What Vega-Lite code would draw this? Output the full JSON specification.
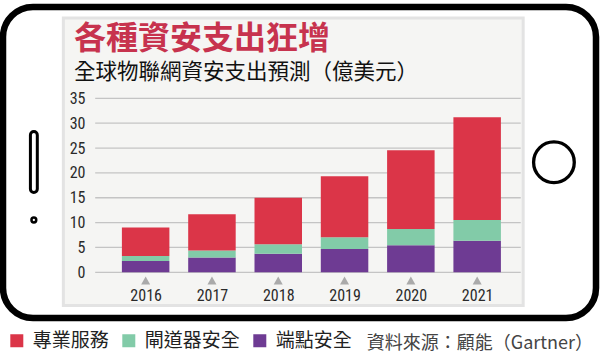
{
  "$schema": "https://vega.github.io/schema/vega-lite/v6.json",
  "width": 593,
  "height": 311,
  "autosize": {"type": "none"},
  "padding": {"left": 3, "top": 7, "right": 4, "bottom": 40},
  "background": "white",
  "config": {
    "view": {"stroke": "#000000", "strokeWidth": 6.5, "cornerRadius": 30, "fill": "white"},
    "font": "Noto Sans CJK TC"
  },
  "title": {
    "text": "各種資安支出狂增",
    "subtitle": "全球物聯網資安支出預測（億美元）",
    "anchor": "start",
    "frame": "group",
    "dx": 71,
    "dy": 77,
    "offset": 0,
    "font": "Noto Sans CJK TC",
    "fontSize": 32,
    "fontWeight": "bold",
    "color": "#c7334e",
    "subtitleFont": "Noto Sans CJK TC",
    "subtitleFontSize": 21.5,
    "subtitleColor": "#111111",
    "subtitlePadding": 6
  },
  "datasets": {
    "spend": [
      {"year": 2016, "series": "端點安全", "value": 2.3},
      {"year": 2016, "series": "閘道器安全", "value": 1.0},
      {"year": 2016, "series": "專業服務", "value": 5.7},
      {"year": 2017, "series": "端點安全", "value": 3.0},
      {"year": 2017, "series": "閘道器安全", "value": 1.4},
      {"year": 2017, "series": "專業服務", "value": 7.3},
      {"year": 2018, "series": "端點安全", "value": 3.75},
      {"year": 2018, "series": "閘道器安全", "value": 1.9},
      {"year": 2018, "series": "專業服務", "value": 9.35},
      {"year": 2019, "series": "端點安全", "value": 4.7},
      {"year": 2019, "series": "閘道器安全", "value": 2.35},
      {"year": 2019, "series": "專業服務", "value": 12.25},
      {"year": 2020, "series": "端點安全", "value": 5.45},
      {"year": 2020, "series": "閘道器安全", "value": 3.25},
      {"year": 2020, "series": "專業服務", "value": 15.85},
      {"year": 2021, "series": "端點安全", "value": 6.35},
      {"year": 2021, "series": "閘道器安全", "value": 4.15},
      {"year": 2021, "series": "專業服務", "value": 20.7}
    ],
    "grid": [{"v": 0}, {"v": 5}, {"v": 10}, {"v": 15}, {"v": 20}, {"v": 25}, {"v": 30}, {"v": 35}]
  },
  "layer": [
    {
      "data": {"values": [{}]},
      "mark": {"type": "rect", "fill": "#f5f5f3", "stroke": "#e3e3e3", "strokeWidth": 3},
      "encoding": {
        "x": {"datum": 2014.759, "type": "quantitative", "scale": {"domain": [2013.924, 2022.717], "nice": false, "zero": false}},
        "x2": {"datum": 2021.694},
        "y": {"datum": 51.16, "type": "quantitative", "scale": {"domain": [-9.19, 53.37], "nice": false, "zero": false}},
        "y2": {"datum": -6.68}
      }
    },
    {
      "data": {"name": "grid"},
      "mark": {"type": "rule", "color": "#c4c4c4", "strokeWidth": 1.3},
      "encoding": {
        "x": {"datum": 2015.239, "type": "quantitative", "scale": {"domain": [2013.924, 2022.717], "nice": false, "zero": false}},
        "x2": {"datum": 2021.657},
        "y": {"field": "v", "type": "quantitative", "scale": {"domain": [-9.19, 53.37], "nice": false, "zero": false}}
      }
    },
    {
      "data": {"name": "spend"},
      "transform": [{"calculate": "indexof(['端點安全', '閘道器安全', '專業服務'], datum.series)", "as": "stackRank"}],
      "mark": {"type": "bar", "orient": "vertical", "width": 47.5},
      "encoding": {
        "x": {
          "field": "year", "type": "quantitative",
          "scale": {"domain": [2013.924, 2022.717], "nice": false, "zero": false},
          "axis": {
            "values": [2016, 2017, 2018, 2019, 2020, 2021], "format": "d", "title": null,
            "orient": "bottom", "offset": -31, "domain": false, "ticks": false, "tickSize": 0, "grid": false,
            "labelPadding": 0, "labelFont": "Liberation Sans Narrow, Roboto Condensed, DejaVu Sans Condensed, sans-serif",
            "labelFontSize": 16, "labelFontWeight": "normal", "labelColor": "#2a2a2a", "labelFlush": false, "zindex": 2
          }
        },
        "y": {
          "field": "value", "type": "quantitative", "stack": "zero",
          "scale": {"domain": [-9.19, 53.37], "nice": false, "zero": false},
          "axis": {
            "values": [0, 5, 10, 15, 20, 25, 30, 35], "title": null, "orient": "left", "offset": -89,
            "domain": false, "ticks": false, "tickSize": 0, "grid": false, "labelPadding": 7,
            "labelFont": "Liberation Sans Narrow, Roboto Condensed, DejaVu Sans Condensed, sans-serif",
            "labelFontSize": 16, "labelFontWeight": "normal", "labelColor": "#2a2a2a", "labelFlush": false, "zindex": 2
          }
        },
        "color": {
          "field": "series", "type": "nominal",
          "scale": {"domain": ["專業服務", "閘道器安全", "端點安全"], "range": ["#db3548", "#82cba8", "#6e3b93"]},
          "legend": {
            "orient": "none", "legendX": 4.3, "legendY": 324, "direction": "horizontal", "columns": 3,
            "title": null, "symbolType": "square", "symbolSize": 169, "symbolStrokeWidth": 0,
            "labelFont": "Noto Sans CJK TC", "labelFontSize": 19, "labelColor": "#222222",
            "columnPadding": 10, "labelOffset": 6.5, "padding": 0
          }
        },
        "order": {"field": "stackRank", "type": "quantitative", "sort": "ascending"}
      }
    },
    {
      "data": {"name": "spend"},
      "transform": [{"filter": "datum.series === '端點安全'"}],
      "mark": {"type": "point", "shape": "triangle-up", "filled": true, "color": "#aaaaaa", "size": 81, "opacity": 1},
      "encoding": {
        "x": {"field": "year", "type": "quantitative", "scale": {"domain": [2013.924, 2022.717], "nice": false, "zero": false}},
        "y": {"datum": -1.65, "type": "quantitative", "scale": {"domain": [-9.19, 53.37], "nice": false, "zero": false}}
      }
    },
    {
      "data": {"values": [{}]},
      "mark": {"type": "text", "text": "資料來源：顧能（Gartner）", "align": "right", "baseline": "middle", "fontSize": 18, "color": "#444444", "font": "Noto Sans CJK TC"},
      "encoding": {
        "x": {"datum": 2022.747, "type": "quantitative", "scale": {"domain": [2013.924, 2022.717], "nice": false, "zero": false}},
        "y": {"datum": -14.32, "type": "quantitative", "scale": {"domain": [-9.19, 53.37], "nice": false, "zero": false}}
      }
    },
    {
      "data": {"values": [{}]},
      "mark": {"type": "point", "shape": "circle", "filled": false, "stroke": "#000000", "strokeWidth": 3.3, "size": 1656, "opacity": 1},
      "encoding": {
        "x": {"datum": 2022.158, "type": "quantitative", "scale": {"domain": [2013.924, 2022.717], "nice": false, "zero": false}},
        "y": {"datum": 22.13, "type": "quantitative", "scale": {"domain": [-9.19, 53.37], "nice": false, "zero": false}}
      }
    },
    {
      "data": {"values": [{}]},
      "mark": {"type": "rect", "fill": null, "stroke": "#000000", "strokeWidth": 3, "cornerRadius": 3.5},
      "encoding": {
        "x": {"datum": 2014.262, "type": "quantitative", "scale": {"domain": [2013.924, 2022.717], "nice": false, "zero": false}},
        "x2": {"datum": 2014.366},
        "y": {"datum": 28.32, "type": "quantitative", "scale": {"domain": [-9.19, 53.37], "nice": false, "zero": false}},
        "y2": {"datum": 16.05}
      }
    },
    {
      "data": {"values": [{}]},
      "mark": {"type": "point", "shape": "circle", "filled": false, "stroke": "#000000", "strokeWidth": 2.5, "size": 23, "opacity": 1},
      "encoding": {
        "x": {"datum": 2014.314, "type": "quantitative", "scale": {"domain": [2013.924, 2022.717], "nice": false, "zero": false}},
        "y": {"datum": 10.52, "type": "quantitative", "scale": {"domain": [-9.19, 53.37], "nice": false, "zero": false}}
      }
    }
  ]
}
